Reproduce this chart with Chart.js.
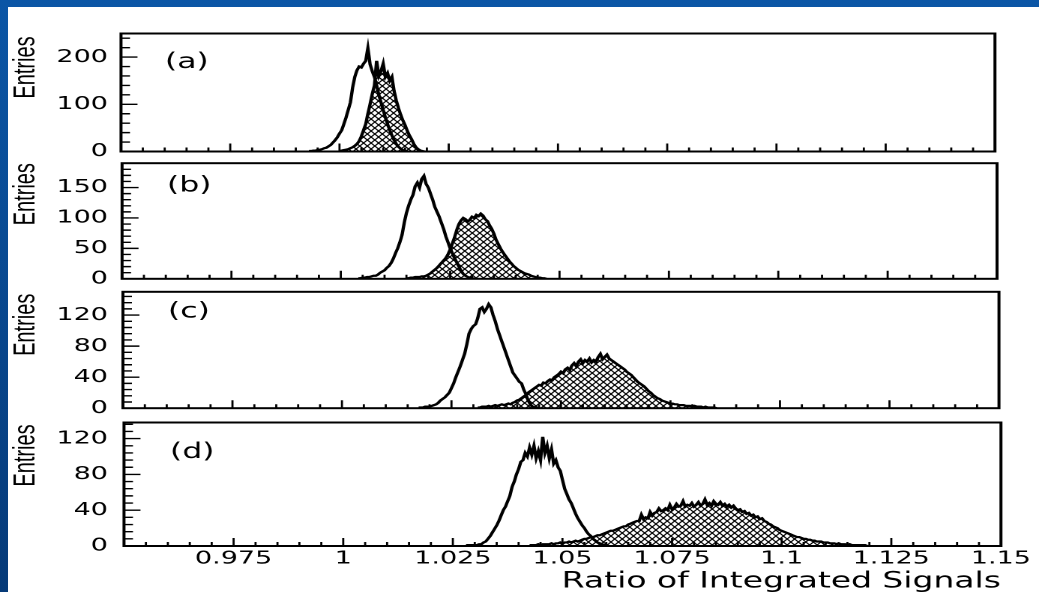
<!DOCTYPE html>
<html>
<head>
<meta charset="utf-8">
<script src="https://cdn.jsdelivr.net/npm/chart.js@4"></script>
<style>
  body {
    margin: 0;
    width: 1039px;
    height: 592px;
    overflow: hidden;
    position: relative;
    background: linear-gradient(#0b56a6, #063a78);
  }
  #sheet { position: absolute; left: 8px; top: 7px; right: 0; bottom: 0; background: #fff; }
  canvas { position: absolute; left: 0; width: 1039px !important; }
</style>
</head>
<body>
<div id="sheet"></div>
<canvas id="panelA" width="693" height="157" style="top:14px;height:157px"></canvas>
<canvas id="panelB" width="693" height="156" style="top:143px;height:156px"></canvas>
<canvas id="panelC" width="693" height="158" style="top:271px;height:158px"></canvas>
<canvas id="panelD" width="693" height="199" style="top:401px;height:199px"></canvas>
<script>
// histogram bin width and x range (Ratio of Integrated Signals)
const BIN = 0.0005;
const xMin = 0.95, xMax = 1.15;

// (a)
const aOpenStart = 0.9930;
const aOpen = [1,1,2,2,3,4,5,7,8,11,14,19,24,30,38,45,58,72,88,104,135,158,172,180,178,186,192,219,185,170,158,140,120,104,88,72,58,45,34,24,16,10,6,3,1,0];
const aHatchStart = 1.0000;
const aHatch = [1,2,3,4,5,7,9,12,16,22,32,45,58,80,100,122,140,192,160,170,186,158,166,150,158,128,108,92,78,66,56,44,34,26,16,9,5,2,1,0];

// (b)
const bOpenStart = 1.0040;
const bOpen = [1,1,2,2,3,3,4,5,5,7,10,12,14,18,21,26,33,42,50,60,72,92,108,120,130,138,152,158,150,164,169,156,150,140,130,118,110,102,92,82,70,60,50,42,34,27,20,13,8,5,3,2,1,0];
const bHatchStart = 1.0150;
const bHatch = [1,1,2,2,3,3,3,4,4,5,7,9,12,15,18,22,26,30,34,40,48,58,68,80,90,96,100,98,94,97,102,100,105,103,107,104,98,95,88,82,74,64,57,50,44,39,34,29,25,21,18,15,13,11,9,8,7,5,4,3,2,2,1,1,0];

// (c)
const cOpenStart = 1.0175;
const cOpen = [1,1,1,2,2,2,3,4,5,7,10,12,14,17,20,26,32,40,47,54,62,70,82,96,102,106,108,116,128,130,124,128,134,130,120,112,102,94,86,78,70,62,54,46,42,38,34,32,24,18,10,5,2,1,0];
const cHatchStart = 1.0310;
const cHatch = [1,1,2,2,2,3,2,3,4,3,4,5,4,5,6,5,7,8,10,11,13,15,17,20,22,24,26,28,30,29,33,32,35,37,36,40,42,44,47,45,50,52,49,55,58,54,60,63,58,62,60,64,59,62,60,66,70,63,66,69,64,62,60,58,56,54,52,50,47,45,43,40,37,34,32,30,28,25,22,20,17,15,13,12,10,9,8,7,6,6,5,5,4,4,4,3,3,3,2,3,2,2,2,1,2,1,1,1,1,0];

// (d)
const dOpenStart = 1.0280;
const dOpen = [1,1,1,1,1,1,2,2,4,5,8,11,15,19,23,28,34,40,44,50,56,66,72,80,86,94,96,104,100,110,102,112,98,106,96,122,104,112,98,108,92,96,88,84,74,64,58,52,48,42,36,31,27,23,20,16,13,11,8,6,4,3,2,1,1,0];
const dHatchStart = 1.0425;
const dHatch = [1,1,1,1,2,1,2,2,2,2,3,2,3,3,4,3,4,4,5,4,5,6,5,6,7,8,8,9,10,10,11,12,12,13,14,15,16,17,17,18,19,20,21,22,22,24,25,26,27,28,28,35,30,32,31,38,34,37,38,42,39,40,42,40,46,41,43,47,44,45,50,44,46,45,48,44,46,49,45,47,52,46,48,45,50,47,46,49,45,47,44,46,43,45,42,40,41,38,39,36,37,34,35,32,33,30,31,28,27,25,24,22,21,20,18,17,16,15,14,13,12,11,10,10,9,8,8,7,7,6,6,5,5,5,4,4,4,3,3,3,2,3,2,2,2,1,2,1,1,1,1,1,1,1,0];

// y axis ranges per panel
const yMaxes = [250, 190, 150, 138];
const yMajors = [100, 50, 40, 40];
const yMinors = [20, 10, 8, 8];
const tags = ['(a)', '(b)', '(c)', '(d)'];

Chart.defaults.font.family = 'DejaVu Sans';
Chart.defaults.color = '#000';

function toPoints(start, counts) {
    return counts.map((c, i) => ({ x: start + i * BIN, y: c }));
}

// diamond cross-hatch fill
function hatchPattern() {
    const c = document.createElement('canvas');
    c.width = 10;
    c.height = 12;
    const g = c.getContext('2d');
    g.fillStyle = '#fff';
    g.fillRect(0, 0, 10, 12);
    g.strokeStyle = '#000';
    g.lineWidth = 2;
    g.beginPath();
    g.moveTo(-2, -2.4); g.lineTo(12, 14.4);
    g.moveTo(-2, 14.4); g.lineTo(12, -2.4);
    g.stroke();
    const p = g.createPattern(c, 'repeat');
    p.setTransform(new DOMMatrix([0.5, 0, 0, 0.5, 0, 0]));
    return p;
}
const hatch = hatchPattern();

// frame, inward ticks, panel tag and "Entries"
const framePlugin = {
    id: 'frame',
    afterDraw(chart, args, opts) {
        const { ctx, chartArea: a, scales: { x, y } } = chart;
        ctx.save();
        ctx.strokeStyle = '#000';
        ctx.lineWidth = 1.4;
        ctx.beginPath();
        for (let i = 1; i < 40; i++) {
            const px = x.getPixelForValue(xMin + i * 0.005);
            const len = i % 5 === 0 ? 8 : 4;
            ctx.moveTo(px, a.bottom);
            ctx.lineTo(px, a.bottom - len);
        }
        const steps = Math.floor(y.max / opts.minor + 1e-6);
        for (let i = 1; i <= steps; i++) {
            const v = i * opts.minor;
            const py = y.getPixelForValue(v);
            const major = Math.abs(v / opts.major - Math.round(v / opts.major)) < 1e-6;
            ctx.moveTo(a.left, py);
            ctx.lineTo(a.left + (major ? 11 : 6), py);
        }
        ctx.stroke();

        ctx.lineWidth = 2;
        ctx.strokeRect(a.left, a.top, a.right - a.left, a.bottom - a.top);

        ctx.fillStyle = '#000';
        ctx.textBaseline = 'middle';
        ctx.font = '21px "DejaVu Sans"';
        ctx.fillText(opts.tag, opts.tagX, a.top + opts.tagY);

        ctx.translate(17.3, a.top + opts.entriesY);
        ctx.rotate(-Math.PI / 2);
        ctx.textAlign = 'center';
        ctx.font = '20px "Liberation Sans"';
        ctx.fillText('Entries', 0, 0);
        ctx.restore();
    }
};

function makePanel(id, k, open, hatched, box) {
    const last = k === 3;
    return new Chart(document.getElementById(id), {
        type: 'line',
        data: {
            datasets: [
                { data: open, borderColor: '#000', borderWidth: 2.2, pointRadius: 0, fill: false, tension: 0 },
                { data: hatched, borderColor: '#000', borderWidth: 2.2, pointRadius: 0, fill: 'origin', backgroundColor: hatch, tension: 0 }
            ]
        },
        plugins: [framePlugin],
        options: {
            responsive: false,
            devicePixelRatio: 2,
            animation: false,
            layout: { padding: { top: 14, bottom: last ? 0 : 14, left: 0, right: 693 - box.right } },
            scales: {
                x: {
                    type: 'linear',
                    min: xMin,
                    max: xMax,
                    display: last,
                    grid: { display: false, drawTicks: false },
                    border: { display: false },
                    ticks: {
                        stepSize: 0.025,
                        autoSkip: false,
                        maxRotation: 0,
                        padding: 2,
                        font: { size: 18 },
                        callback: v => v < 0.96 ? '' : String(Math.round(v * 1000) / 1000)
                    },
                    title: {
                        display: last,
                        text: 'Ratio of Integrated Signals',
                        align: 'end',
                        font: { size: 22 },
                        padding: { top: 0, bottom: 5 }
                    },
                    afterFit: s => { s.height = last ? 54 : 0; }
                },
                y: {
                    min: 0,
                    max: yMaxes[k],
                    grid: { display: false, drawTicks: false },
                    border: { display: false },
                    ticks: {
                        stepSize: yMajors[k],
                        includeBounds: false,
                        autoSkip: false,
                        padding: box.left - 72,
                        font: { size: 18 }
                    },
                    afterFit: s => { s.width = box.left; }
                }
            },
            plugins: {
                legend: { display: false },
                tooltip: { enabled: false },
                frame: {
                    tag: tags[k],
                    tagX: box.tagX,
                    tagY: box.tagY,
                    entriesY: box.entriesY,
                    major: yMajors[k],
                    minor: yMinors[k]
                }
            }
        }
    });
}

makePanel('panelA', 0, toPoints(aOpenStart, aOpen), toPoints(aHatchStart, aHatch),
    { left: 80.7, right: 663.6, tagX: 110, tagY: 29, entriesY: 34 });
makePanel('panelB', 1, toPoints(bOpenStart, bOpen), toPoints(bHatchStart, bHatch),
    { left: 81.4, right: 665.0, tagX: 111.4, tagY: 23, entriesY: 31 });
makePanel('panelC', 2, toPoints(cOpenStart, cOpen), toPoints(cHatchStart, cHatch),
    { left: 82.0, right: 666.3, tagX: 112, tagY: 20, entriesY: 33 });
makePanel('panelD', 3, toPoints(dOpenStart, dOpen), toPoints(dHatchStart, dHatch),
    { left: 82.7, right: 667.6, tagX: 113.4, tagY: 30, entriesY: 33 });
</script>
</body>
</html>
